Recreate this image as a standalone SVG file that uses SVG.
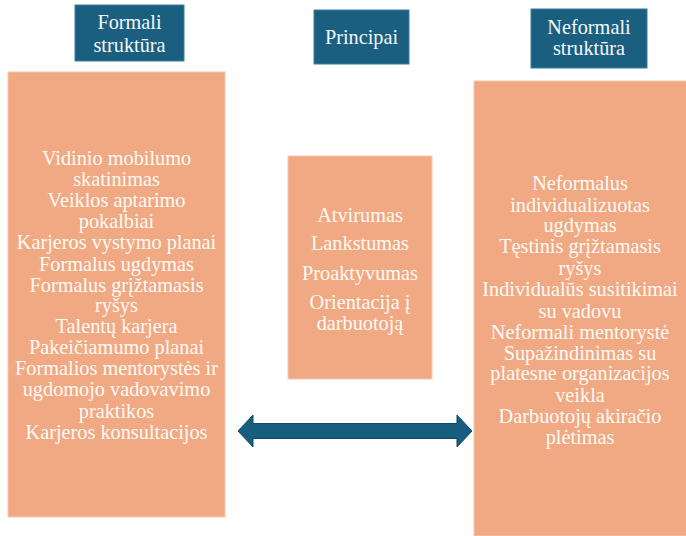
<svg xmlns="http://www.w3.org/2000/svg" width="686" height="536" viewBox="0 0 686 536">
  <style>
    .hdr { fill: #1a5f7f; stroke: #3f7f9c; stroke-width: 1; }
    .box { fill: #f0a983; stroke: #f6c6ac; stroke-width: 1; }
    text { font-family: "Liberation Serif", "Times New Roman", serif; font-size: 20.3px; fill: #fffaf5; text-anchor: middle; }
    .h text { fill: #f4f8fa; }
  </style>
  <rect width="686" height="536" fill="#ffffff"/>

  <g id="hdr-formali" class="h">
    <rect class="hdr" x="75" y="5" width="109" height="56"/>
    <text x="129.5" y="29">Formali</text>
    <text x="129.5" y="52">struktūra</text>
  </g>
  <g id="hdr-principai" class="h">
    <rect class="hdr" x="314" y="10" width="95" height="54"/>
    <text x="361.5" y="44">Principai</text>
  </g>
  <g id="hdr-neformali" class="h">
    <rect class="hdr" x="531" y="9" width="116" height="59"/>
    <text x="589" y="34">Neformali</text>
    <text x="589" y="55">struktūra</text>
  </g>

  <g id="formali">
    <rect class="box" x="8" y="72" width="217" height="445"/>
    <text x="116.5" y="165">Vidinio mobilumo</text>
    <text x="116.5" y="186">skatinimas</text>
    <text x="116.5" y="207">Veiklos aptarimo</text>
    <text x="116.5" y="228">pokalbiai</text>
    <text x="116.5" y="249">Karjeros vystymo planai</text>
    <text x="116.5" y="271">Formalus ugdymas</text>
    <text x="116.5" y="292">Formalus grįžtamasis</text>
    <text x="116.5" y="312">ryšys</text>
    <text x="116.5" y="333">Talentų karjera</text>
    <text x="116.5" y="354">Pakeičiamumo planai</text>
    <text x="116.5" y="375">Formalios mentorystės ir</text>
    <text x="116.5" y="396">ugdomojo vadovavimo</text>
    <text x="116.5" y="418">praktikos</text>
    <text x="116.5" y="439">Karjeros konsultacijos</text>
  </g>

  <g id="principai">
    <rect class="box" x="288" y="156" width="144" height="223"/>
    <text x="360" y="222">Atvirumas</text>
    <text x="360" y="250">Lankstumas</text>
    <text x="360" y="280">Proaktyvumas</text>
    <text x="360" y="309">Orientacija į</text>
    <text x="360" y="330">darbuotoją</text>
  </g>

  <g id="neformali">
    <rect class="box" x="474" y="81" width="213" height="455"/>
    <text x="580" y="190">Neformalus</text>
    <text x="580" y="212">individualizuotas</text>
    <text x="580" y="232">ugdymas</text>
    <text x="580" y="253">Tęstinis grįžtamasis</text>
    <text x="580" y="275">ryšys</text>
    <text x="580" y="296">Individualūs susitikimai</text>
    <text x="580" y="318">su vadovu</text>
    <text x="580" y="339">Neformali mentorystė</text>
    <text x="580" y="360">Supažindinimas su</text>
    <text x="580" y="380">platesne organizacijos</text>
    <text x="580" y="402">veikla</text>
    <text x="580" y="423">Darbuotojų akiračio</text>
    <text x="580" y="444">plėtimas</text>
  </g>

  <g id="connectors">
    <path d="M238,431 L253,415 L253,423.5 L457,423.5 L457,415 L472,431 L457,447 L457,438.5 L253,438.5 L253,447 Z" fill="#175e7e" stroke="#0f4c68" stroke-width="1"/>
  </g>
</svg>
